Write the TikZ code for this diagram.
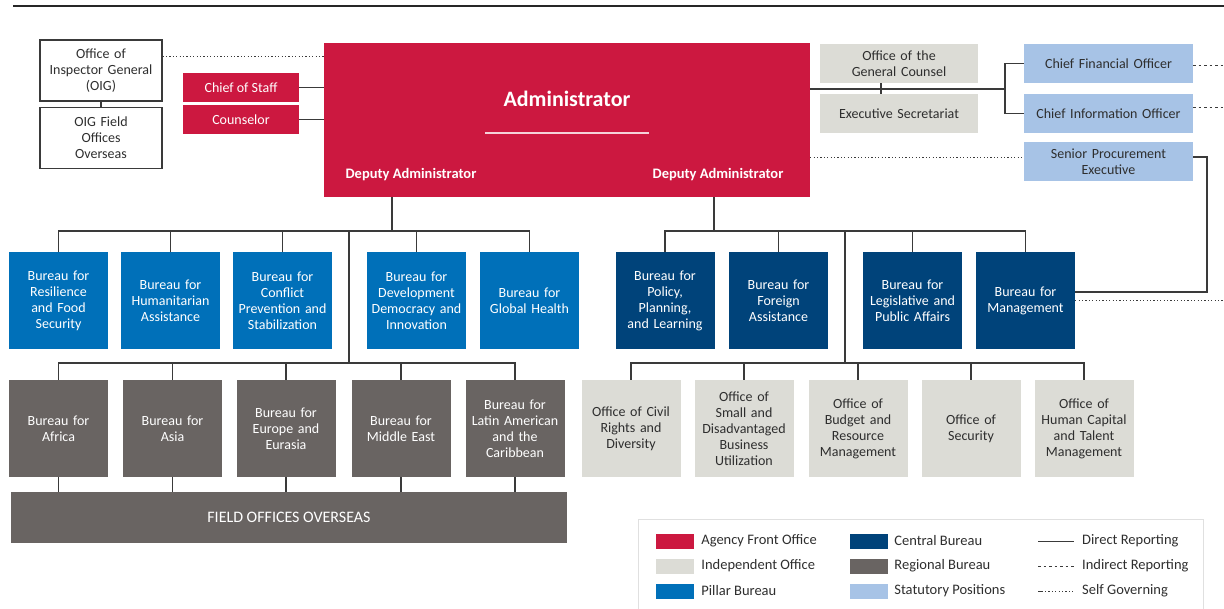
\documentclass[tikz,border=0pt]{standalone}
\usepackage{fontspec}
\setmainfont{Carlito}
\usetikzlibrary{positioning}

\definecolor{frontred}{HTML}{CC1840}
\definecolor{pillarblue}{HTML}{0070B9}
\definecolor{centralblue}{HTML}{00437A}
\definecolor{regiongray}{HTML}{696462}
\definecolor{indepgray}{HTML}{DCDCD6}
\definecolor{statblue}{HTML}{A7C3E6}
\definecolor{linegray}{HTML}{3A3A3A}
\definecolor{textgray}{HTML}{2E2E2E}

\tikzset{
  box/.style={inner sep=0pt, align=center, font=\fontsize{14}{16}\selectfont},
  bureau/.style={box, minimum width=99pt, minimum height=97pt, text width=97pt},
  pillar/.style={bureau, fill=pillarblue, text=white},
  central/.style={bureau, fill=centralblue, text=white},
  region/.style={bureau, fill=regiongray, text=white},
  indep/.style={bureau, fill=indepgray, text=textgray},
  front/.style={box, fill=frontred, text=white},
  stat/.style={box, fill=statblue, text=textgray, minimum width=169pt, minimum height=39pt, text width=165pt},
  counsel/.style={box, fill=indepgray, text=textgray, minimum width=158pt, minimum height=39pt, text width=154pt},
  oigbox/.style={box, draw=linegray, line width=1.1pt, text=textgray, minimum width=122pt, minimum height=61pt, text width=118pt},
  link/.style={draw=linegray, line width=1.1pt},
  indirect/.style={draw=linegray, line width=1pt, dash pattern=on 2.5pt off 3pt},
  selfgov/.style={draw=linegray, line width=1pt, dash pattern=on 1.2pt off 2.2pt},
  swatch/.style={minimum width=38pt, minimum height=15pt, inner sep=0pt},
  legtext/.style={font=\fontsize{14.5}{16}\selectfont, text=textgray, anchor=west, inner sep=0pt}
}

\begin{document}
\begin{tikzpicture}[x=1pt, y=-1pt]
  \useasboundingbox (0,0) rectangle (1224,609);

  % top rule
  \draw[line width=1.5pt, black!85] (13,6) -- (1224,6);

  % front office
  \node[front, minimum width=486pt, minimum height=154pt] (admin) at (567,120) {};
  \node[font=\bfseries\fontsize{22}{24}\selectfont, text=white] (admtitle) at (567,99) {Administrator};
  \draw[white!80!frontred, line width=1.2pt] (485,133) -- (649,133);
  \node[font=\bfseries\fontsize{14.5}{16}\selectfont, text=white] (depL) at (411,175) {Deputy Administrator};
  \node[font=\bfseries\fontsize{14.5}{16}\selectfont, text=white] (depR) at (718,175) {Deputy Administrator};
  \node[front, minimum width=116pt, minimum height=29pt] (cos) at (241,87.5) {Chief of Staff};
  \node[front, minimum width=116pt, minimum height=29pt] (couns) at (241,119.5) {Counselor};

  % inspector general
  \node[oigbox] (oig) at (101,70.5) {Office of\\Inspector General\\(OIG)};
  \node[oigbox] (oigf) at (101,138) {OIG Field\\Offices\\Overseas};

  % right of administrator
  \node[counsel] (gc) at (899,63.5) {Office of the\\General Counsel};
  \node[counsel] (es) at (899,113.5) {Executive Secretariat};
  \node[stat] (cfo) at (1108.5,63.5) {Chief Financial Officer};
  \node[stat] (cio) at (1108.5,113.5) {Chief Information Officer};
  \node[stat] (spe) at (1108.5,161.5) {Senior Procurement\\Executive};

  % pillar bureaus
  \node[pillar] (res) at (58.5,301) {Bureau for\\Resilience\\and Food\\Security};
  \node[pillar] (hum) at (170.5,301) {Bureau for\\Humanitarian\\Assistance};
  \node[pillar] (con) at (282.5,301) {Bureau for\\Conflict\\Prevention and\\Stabilization};
  \node[pillar] (dev) at (416.5,301) {Bureau for\\Development\\Democracy and\\Innovation};
  \node[pillar] (gh) at (529.5,301) {Bureau for\\Global Health};

  % regional bureaus
  \node[region] (af) at (58.5,428.5) {Bureau for\\Africa};
  \node[region] (asia) at (172.5,428.5) {Bureau for\\Asia};
  \node[region] (eur) at (286,428.5) {Bureau for\\Europe and\\Eurasia};
  \node[region] (me) at (401,428.5) {Bureau for\\Middle East};
  \node[region] (lac) at (515,428.5) {Bureau for\\Latin American\\and the\\Caribbean};
  \node[box, fill=regiongray, text=white, font=\fontsize{16}{18}\selectfont, minimum width=556pt, minimum height=51pt] (field) at (289,517.5) {FIELD OFFICES OVERSEAS};

  % central bureaus
  \node[central] (pol) at (665,301) {Bureau for\\Policy,\\Planning,\\and Learning};
  \node[central] (fa) at (778.5,301) {Bureau for\\Foreign\\Assistance};
  \node[central] (leg) at (912.5,301) {Bureau for\\Legislative and\\Public Affairs};
  \node[central] (mgmt) at (1025.5,301) {Bureau for\\Management};

  % independent offices
  \node[indep] (civ) at (631,428.5) {Office of Civil\\Rights and\\Diversity};
  \node[indep] (sdb) at (744,428.5) {Office of\\Small and\\Disadvantaged\\Business\\Utilization};
  \node[indep] (bud) at (858,428.5) {Office of\\Budget and\\Resource\\Management};
  \node[indep] (sec) at (971,428.5) {Office of\\Security};
  \node[indep] (hc) at (1084,428.5) {Office of\\Human Capital\\and Talent\\Management};

  % connectors, top
  \draw[link] (oig) -- (oigf);
  \draw[selfgov] (oig.east |- 0,57) -- (admin.west |- 0,57);
  \draw[link] (cos.east) -- (cos.east -| admin.west);
  \draw[link] (couns.east) -- (couns.east -| admin.west);
  \coordinate (brk) at (1005,89);
  \coordinate (edgeR) at (1224,0);
  \draw[link] (admin.east |- brk) -- (brk);
  \draw[link] ([xshift=-18pt]gc.south) -- ([xshift=-18pt]es.north);
  \draw[link] (cfo.west) -| (brk) |- (cio.west);
  \draw[indirect] ([yshift=-2.5pt]cfo.east) -- ([yshift=-2.5pt]cfo.east -| edgeR);
  \draw[indirect] ([yshift=5.5pt]cio.east) -- ([yshift=5.5pt]cio.east -| edgeR);
  \coordinate (spein) at ([yshift=3.5pt]spe.west);
  \draw[selfgov] (admin.east |- spein) -- (spein);
  \coordinate (mgturn) at (1207,292);
  \draw[link] ([yshift=4.5pt]spe.east) -| (mgturn) -- (mgturn -| mgmt.east);
  \draw[selfgov] (mgmt.east) -- (mgmt.east -| edgeR);

  % connectors, left deputy
  \coordinate (dl) at (392,231);
  \coordinate (tl) at (349,363);
  \draw[link] (admin.south -| dl) -- (dl);
  \draw[link] (res.north) -- (res.north |- dl) -- (gh.north |- dl) -- (gh.north);
  \foreach \b in {hum,con,dev}
    \draw[link] (\b.north) -- (\b.north |- dl);
  \draw[link] (tl |- dl) -- (tl);
  \draw[link] (af.north) -- (af.north |- tl) -- (lac.north |- tl) -- (lac.north);
  \foreach \b in {asia,eur,me}
    \draw[link] (\b.north) -- (\b.north |- tl);
  \foreach \b in {af,asia,eur,me,lac}
    \draw[link] (\b.south) -- (\b.south |- field.north);

  % connectors, right deputy
  \coordinate (dr) at (714,231);
  \coordinate (tr) at (845,363);
  \draw[link] (admin.south -| dr) -- (dr);
  \draw[link] (pol.north) -- (pol.north |- dr) -- (mgmt.north |- dr) -- (mgmt.north);
  \foreach \b in {fa,leg}
    \draw[link] (\b.north) -- (\b.north |- dr);
  \draw[link] (tr |- dr) -- (tr);
  \draw[link] (civ.north) -- (civ.north |- tr) -- (hc.north |- tr) -- (hc.north);
  \foreach \b in {sdb,bud,sec}
    \draw[link] (\b.north) -- (\b.north |- tr);

  % legend
  \draw[draw=black!12, line width=1pt] (638,519) rectangle (1203,620);
  \node[swatch, fill=frontred] (lgfront) at (675,541) {};
  \node[swatch, fill=indepgray] (lgindep) at (675,566) {};
  \node[swatch, fill=pillarblue] (lgpillar) at (675,591) {};
  \node[legtext, right=7pt of lgfront] (ltfront) {Agency Front Office};
  \node[legtext, right=7pt of lgindep] (ltindep) {Independent Office};
  \node[legtext, right=7pt of lgpillar] (ltpillar) {Pillar Bureau};
  \node[swatch, fill=centralblue] (lgcentral) at (869,541) {};
  \node[swatch, fill=regiongray] (lgregion) at (869,566) {};
  \node[swatch, fill=statblue] (lgstat) at (869,591) {};
  \node[legtext, right=6pt of lgcentral] (ltcentral) {Central Bureau};
  \node[legtext, right=6pt of lgregion] (ltregion) {Regional Bureau};
  \node[legtext, right=6pt of lgstat] (ltstat) {Statutory Positions};
  \coordinate (ld1) at (1038,541);
  \coordinate (ld2) at (1038,566);
  \coordinate (ld3) at (1038,591);
  \draw[link, line width=0.9pt] (ld1) -- ++(36,0);
  \draw[indirect, line width=0.9pt] (ld2) -- ++(36,0);
  \draw[link, line width=0.9pt] (ld3) -- ++(5,0);
  \draw[selfgov, line width=0.9pt] ([xshift=7pt]ld3) -- ++(29,0);
  \node[legtext] (ltdirect) at (1082,541) {Direct Reporting};
  \node[legtext] (ltindirect) at (1082,566) {Indirect Reporting};
  \node[legtext] (ltself) at (1082,591) {Self Governing};
\end{tikzpicture}
\end{document}
